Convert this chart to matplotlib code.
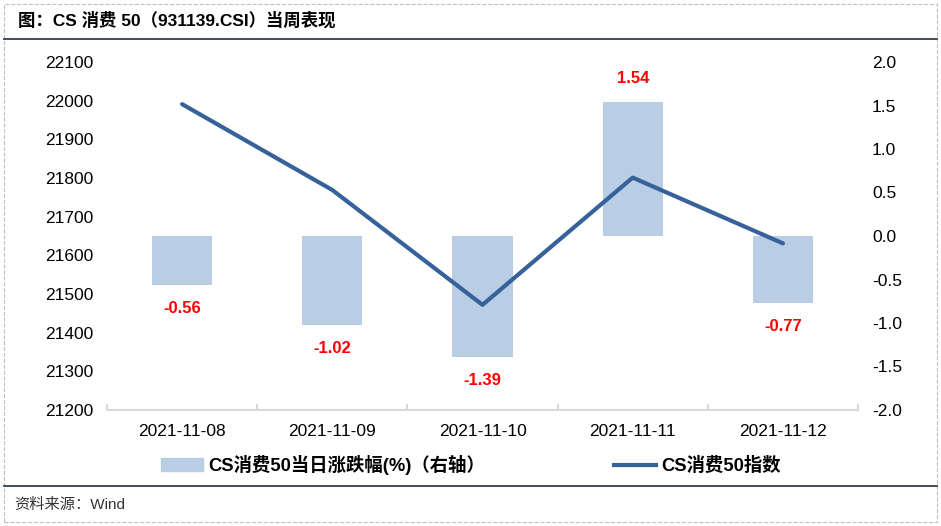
import matplotlib
matplotlib.use('Agg')
import matplotlib.pyplot as plt
from matplotlib.lines import Line2D
from matplotlib.patches import Rectangle

plt.rcParams['font.family'] = ['Liberation Sans', 'Noto Sans CJK SC']

dates = ['2021-11-08', '2021-11-09', '2021-11-10', '2021-11-11', '2021-11-12']
index_vals = [21991, 21769, 21472, 21801, 21631]
pct_change = [-0.56, -1.02, -1.39, 1.54, -0.77]

bar_color = '#B9CDE5'
line_color = '#36619A'

fig = plt.figure(figsize=(9.41, 5.26), dpi=100)
ax = fig.add_axes([107/941, 1 - 410/526, 751/941, 348/526])
ax2 = ax.twinx()

x = list(range(len(dates)))

# bars on right axis
ax2.bar(x, pct_change, width=0.4, color=bar_color, zorder=1)
for xi, v in zip(x, pct_change):
    off = 17 if v > 0 else -17
    ax2.annotate(f'{v:.2f}', (xi, v), xytext=(0, off), textcoords='offset points',
                 ha='center', va='center', color='#FF0000', fontsize=12, fontweight='bold')
ax2.set_ylim(-2.0, 2.0)
ax2.set_yticks([-2.0, -1.5, -1.0, -0.5, 0.0, 0.5, 1.0, 1.5, 2.0])
ax2.set_yticklabels([f'{t:.1f}' for t in ax2.get_yticks()])

# line on left axis, drawn above bars
ax.set_zorder(ax2.get_zorder() + 1)
ax.patch.set_visible(False)
ax.plot(x, index_vals, color=line_color, linewidth=3, solid_capstyle='round')
ax.set_ylim(21200, 22100)
ax.set_yticks(range(21200, 22101, 100))
ax.set_xlim(-0.5, len(dates) - 0.5)
ax.set_xticks(x)
ax.set_xticklabels(dates)
ax.set_xticks([i - 0.5 for i in range(len(dates) + 1)], minor=True)

for a in (ax, ax2):
    for s in a.spines.values():
        s.set_visible(False)
    a.tick_params(axis='y', length=0, labelsize=12.5, colors='#000000')
ax.tick_params(axis='y', pad=10)
ax2.tick_params(axis='y', pad=10)
ax.spines['bottom'].set_visible(True)
ax.spines['bottom'].set_color('#D9D9D9')
ax.spines['bottom'].set_linewidth(1.5)
ax.tick_params(axis='x', which='major', length=0, labelsize=12.5, pad=10)
ax.tick_params(axis='x', which='minor', direction='in', length=4, color='#D9D9D9', width=1.5)

# legend
handles = [Rectangle((0, 0), 1, 1, color=bar_color),
           Line2D([0], [0], color=line_color, linewidth=3)]
fig.legend(handles, ['CS消费50当日涨跌幅(%)（右轴）', 'CS消费50指数'],
           loc='center', bbox_to_anchor=(471/941, 1 - 465/526), ncol=2, frameon=False,
           prop={'size': 13.2, 'weight': 'bold'}, handlelength=2.3, handletextpad=0.3,
           columnspacing=7.0)

# title, footer, frame lines
fig.text(18/941, 1 - 20/526, '图：CS 消费 50（931139.CSI）当周表现', fontsize=12.5,
         fontweight='bold', ha='left', va='center')
fig.text(14/941, 1 - 505/526, '资料来源：Wind', fontsize=11, ha='left', va='center',
         color='#333333')
fig.add_artist(Line2D([4/941, 937/941], [1 - 39/526] * 2, color='#333F4F', linewidth=1.3))
fig.add_artist(Line2D([4/941, 937/941], [1 - 486/526] * 2, color='#333F4F', linewidth=1.3))
fig.add_artist(Rectangle((4/941, 4/526), 933/941, 518/526, transform=fig.transFigure,
                         fill=False, edgecolor='#BFBFBF', linestyle='--', linewidth=0.8))

fig.savefig('out.png', dpi=100)
